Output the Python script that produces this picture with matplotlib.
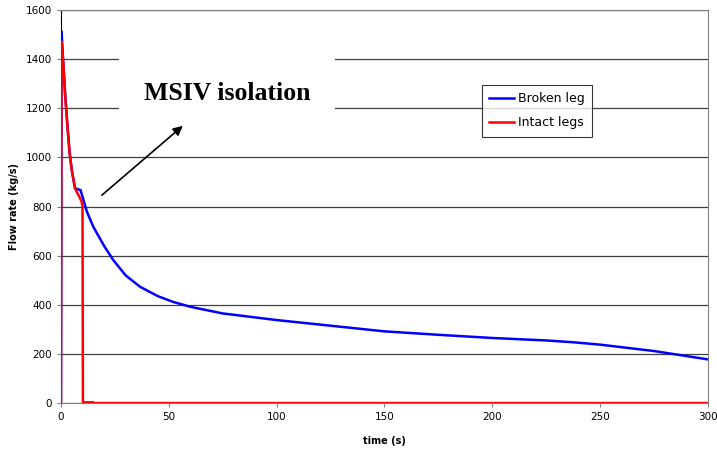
import matplotlib
matplotlib.use("Agg")
import matplotlib.pyplot as plt

# broken leg flow rate
t_broken = [0, 0.3, 1, 2, 3, 4, 5, 6.5, 8, 9.1, 10, 12, 15, 20, 24.3, 30, 36.6, 45, 52, 60,
            75, 100, 125, 150, 175, 200, 225, 237, 250, 275, 300]
q_broken = [0, 1512, 1397, 1250, 1130, 1020, 950, 875, 870, 867, 840, 780, 718, 640, 582, 520,
            474, 435, 412, 392, 365, 338, 315, 292, 278, 265, 255, 248, 238, 212, 178]

# intact legs flow rate
t_intact = [0, 0.3, 1, 2, 3, 4, 5, 6.5, 8.5, 9.6, 10, 10.2, 15, 15.2, 300]
q_intact = [0, 1471, 1397, 1250, 1130, 1020, 950, 875, 840, 820, 800, 3, 3, 0, 0]

fig = plt.figure(figsize=(7.17, 4.57), dpi=100)
ax = fig.add_axes([0.085, 0.118, 0.902, 0.86])

ax.plot(t_broken, q_broken, color="#0000ff", lw=1.8, label="Broken leg", zorder=3)
ax.plot(t_intact, q_intact, color="#ff0000", lw=1.8, label="Intact legs", zorder=4)

ax.set_xlim(0, 300)
ax.set_ylim(0, 1600)
ax.set_xticks(range(0, 301, 50))
ax.set_yticks(range(0, 1601, 200))
ax.grid(axis="y", color="#404040", lw=0.9)
ax.set_axisbelow(True)
ax.tick_params(labelsize=7.5, length=3, width=0.8, color="#808080")
for s in ["top", "right", "bottom"]:
    ax.spines[s].set_color("#808080")
ax.spines["left"].set_color("black")

ax.set_xlabel("time (s)", fontsize=7, fontweight="bold", labelpad=10)
ax.set_ylabel("Flow rate (kg/s)", fontsize=7, fontweight="bold", labelpad=5)

# label box sits above the grid, arrow drawn on top of it
ax.text(77, 1262, "MSIV isolation", fontsize=18.5, fontweight="bold", family="Liberation Serif",
        ha="center", va="center", zorder=2.5,
        bbox=dict(boxstyle="square,pad=0.95", fc="white", ec="none"))
ax.annotate("", xy=(57.5, 1136), xytext=(18, 839), zorder=6,
            arrowprops=dict(arrowstyle="-|>", color="black", lw=1.2, mutation_scale=14))

leg = ax.legend(loc="upper left", bbox_to_anchor=(0.651, 0.81), fontsize=9, frameon=True,
                fancybox=False, edgecolor="black", handlelength=2.0, borderpad=0.6,
                labelspacing=0.9, handletextpad=0.3, borderaxespad=0)
leg.get_frame().set_linewidth(0.8)
leg.set_zorder(5)

fig.savefig("out.png", dpi=100)
